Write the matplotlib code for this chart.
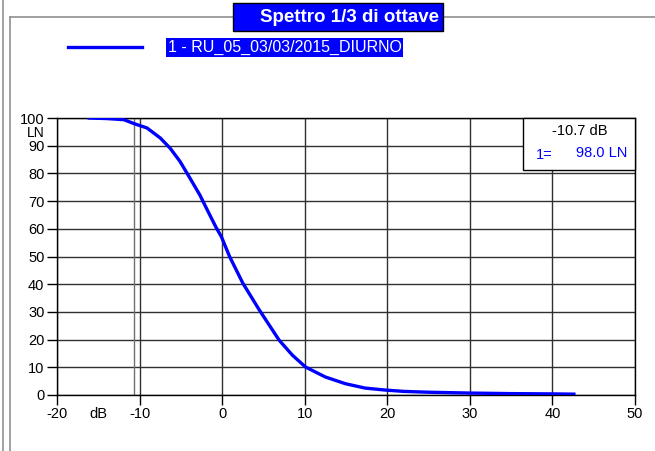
import matplotlib.pyplot as plt
from matplotlib.patches import Rectangle
from matplotlib.lines import Line2D

W, H = 655, 451

# Curve: level (dB) vs exceedance LN (%)
level_db = [-16.3, -14.0, -11.9, -10.7, -9.1, -7.5, -6.3, -5.1, -3.9, -2.7, -1.7,
            -0.7, -0.1, 0.9, 2.5, 4.5, 6.9, 8.5, 10.1, 12.5, 14.9, 17.3, 19.7,
            22.0, 25.0, 30.0, 35.0, 40.0, 42.8]
ln_percent = [100.0, 99.8, 99.4, 98.0, 96.4, 92.8, 89.1, 84.3, 78.3, 72.2, 66.2,
              60.3, 57.2, 50.0, 40.4, 30.7, 19.8, 14.4, 10.1, 6.5, 4.1, 2.5, 1.8,
              1.3, 1.0, 0.7, 0.5, 0.4, 0.3]

x_ticks = [-20, -10, 0, 10, 20, 30, 40, 50]
y_ticks = [0, 10, 20, 30, 40, 50, 60, 70, 80, 90, 100]

cursor_db = -10.7
cursor_ln = 98.0

title = "Spettro 1/3 di ottave"
series_label = "1 - RU_05_03/03/2015_DIURNO"

plt.rcParams["font.family"] = ["Liberation Sans", "DejaVu Sans"]
plt.rcParams["axes.unicode_minus"] = False
BLUE = "#0000ff"


def fx(x):
    return x / W


def fy(y):
    return 1 - y / H


fig = plt.figure(figsize=(W / 100, H / 100), dpi=100)

# Plot area (pixel box: left 57, right 635, top 118, bottom 395)
ax = fig.add_axes([fx(57), fy(395), fx(635) - fx(57), fy(118) - fy(395)])
ax.set_xlim(-20, 50)
ax.set_ylim(0, 100)

for xv in x_ticks:
    ax.axvline(xv, color="#303030", lw=1.0, zorder=1)
for yv in y_ticks:
    ax.axhline(yv, color="#303030", lw=1.0, zorder=1)
ax.axvline(cursor_db, color="#707070", lw=1.0, zorder=1)

ax.plot(level_db, ln_percent, color=BLUE, lw=2.4, zorder=3, solid_capstyle="butt")

ax.set_xticks(x_ticks)
ax.set_yticks(y_ticks)
ax.tick_params(axis="both", direction="out", length=7, width=1, color="black",
               labelsize=10.5, pad=2)
for s in ax.spines.values():
    s.set_color("black")
    s.set_linewidth(1.0)

ax.text(-15, -4.2, "dB", ha="center", va="top", fontsize=10.5,
        transform=ax.transData, clip_on=False)
fig.text(fx(36), fy(133), "LN", ha="center", va="center", fontsize=10)

# Cursor readout box
box_l, box_r, box_t, box_b = 523, 635, 118, 170
fig.add_artist(Rectangle((fx(box_l), fy(box_b)), fx(box_r) - fx(box_l), fy(box_t) - fy(box_b),
                         transform=fig.transFigure, facecolor="white", edgecolor="black",
                         lw=1.0, zorder=5))
fig.text(fx(580), fy(131), f"{cursor_db:.1f} dB", ha="center", va="center",
         fontsize=10.5, color="black", zorder=6)
fig.text(fx(544), fy(155), "1=", ha="center", va="center", fontsize=10.5, color=BLUE, zorder=6)
fig.text(fx(627), fy(153), f"{cursor_ln:.1f} LN", ha="right", va="center",
         fontsize=10.5, color=BLUE, zorder=6)

# Outer frames
fig.add_artist(Line2D([fx(10), fx(10)], [fy(17), 0], transform=fig.transFigure,
                      color="#909090", lw=1.2))
fig.add_artist(Line2D([fx(10), 1], [fy(17), fy(17)], transform=fig.transFigure,
                      color="#909090", lw=1.2))
fig.add_artist(Line2D([fx(3), fx(3)], [1, 0], transform=fig.transFigure,
                      color="#909090", lw=1.2))

# Title box
fig.add_artist(Rectangle((fx(233), fy(31)), fx(443) - fx(233), fy(3) - fy(31),
                         transform=fig.transFigure, facecolor=BLUE, edgecolor="black",
                         lw=1.0, zorder=4))
fig.text(fx(349), fy(17), title, ha="center", va="center", fontsize=13.5,
         fontweight="bold", color="white", zorder=5)

# Legend
fig.add_artist(Line2D([fx(68), fx(142)], [fy(47), fy(47)], transform=fig.transFigure,
                      color=BLUE, lw=2.4))
fig.add_artist(Rectangle((fx(166), fy(57)), fx(403) - fx(166), fy(38) - fy(57),
                         transform=fig.transFigure, facecolor=BLUE, edgecolor="none",
                         zorder=4))
fig.text(fx(168), fy(47), series_label, ha="left", va="center", fontsize=11.5,
         color="white", zorder=5)

fig.savefig("out.png", dpi=100)
